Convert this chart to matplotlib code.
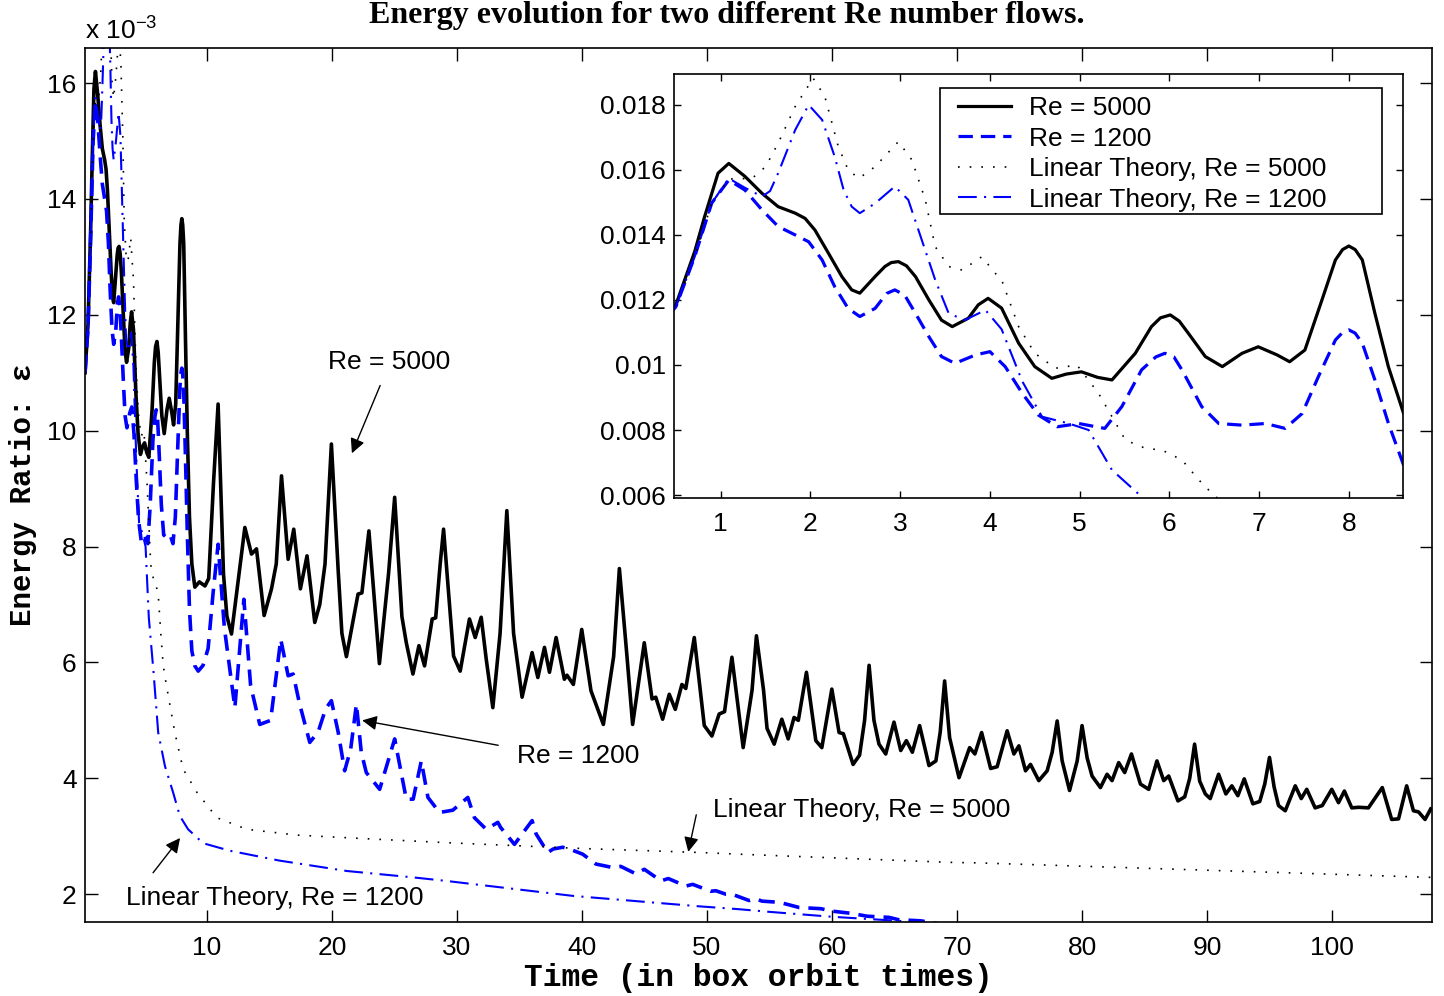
import numpy as np
import matplotlib
matplotlib.use("Agg")
import matplotlib.pyplot as plt
from matplotlib.patches import Rectangle
from matplotlib.ticker import FuncFormatter

plt.rcParams['font.family'] = ['Liberation Sans', 'DejaVu Sans']
plt.rcParams['mathtext.fontset'] = 'custom'
plt.rcParams['mathtext.rm'] = 'Liberation Sans'
plt.rcParams['mathtext.default'] = 'regular'

# energy ratio values in units of 1e-3, time in box orbit times
# each entry is (time, energy ratio)

re5000_pts = [(0.26, 11.0), (0.5, 11.85), (0.71, 13.49), (0.82, 14.56), (0.97, 15.9), (1.09, 16.2),
              (1.27, 15.8), (1.46, 15.28), (1.64, 14.87), (1.83, 14.67), (1.94, 14.51), (2.05, 14.15),
              (2.2, 13.44), (2.35, 12.72), (2.46, 12.31), (2.55, 12.21), (2.72, 12.72), (2.83, 13.03),
              (2.9, 13.15), (2.98, 13.18), (3.07, 13.05), (3.17, 12.72), (3.32, 12.0), (3.46, 11.38),
              (3.58, 11.18), (3.76, 11.44), (3.87, 11.85), (3.98, 12.05), (4.13, 11.75), (4.32, 10.67),
              (4.5, 9.95), (4.69, 9.59), (4.85, 9.72), (5.02, 9.79), (5.2, 9.62), (5.36, 9.54),
              (5.62, 10.36), (5.8, 11.18), (5.9, 11.45), (6.01, 11.54), (6.11, 11.35), (6.21, 10.98),
              (6.4, 10.26), (6.59, 9.95), (6.81, 10.36), (6.99, 10.56), (7.2, 10.31), (7.34, 10.1),
              (7.51, 10.46), (7.7, 12.0), (7.85, 13.23), (7.93, 13.55), (8.0, 13.66), (8.07, 13.55),
              (8.15, 13.23), (8.29, 11.59), (8.44, 9.95), (8.61, 8.51), (8.8, 7.7), (9.04, 7.30),
              (9.4, 7.39), (9.85, 7.32), (10.15, 7.45), (10.53, 9.09), (10.9, 10.46), (11.33, 7.53),
              (11.6, 6.8), (11.97, 6.49), (13.04, 8.33), (13.57, 7.87), (13.97, 7.96), (14.58, 6.81),
              (15.17, 7.27), (15.55, 7.7), (15.97, 9.22), (16.5, 7.78), (16.95, 8.30), (17.48, 7.27),
              (18.01, 7.84), (18.63, 6.69), (19.03, 7.0), (19.45, 7.7), (19.96, 9.77), (20.5, 7.6),
              (20.8, 6.5), (21.16, 6.10), (22.09, 7.18), (22.4, 7.2), (22.96, 8.27), (23.8, 5.98),
              (24.53, 7.53), (25.02, 8.85), (25.6, 6.79), (25.95, 6.34), (26.48, 5.80), (26.96, 6.29),
              (27.41, 5.94), (28.02, 6.75), (28.3, 6.77), (28.66, 7.7), (28.93, 8.30), (29.4, 7.0),
              (29.73, 6.11), (30.26, 5.85), (31.0, 6.75), (31.46, 6.43), (31.94, 6.78), (32.34, 6.06),
              (32.87, 5.22), (33.45, 6.5), (33.99, 8.62), (34.53, 6.5), (35.21, 5.40), (36.01, 6.17),
              (36.47, 5.74), (37.0, 6.26), (37.4, 5.83), (37.93, 6.43), (38.59, 5.71), (38.8, 5.78),
              (39.31, 5.62), (39.98, 6.57), (40.72, 5.51), (41.71, 4.93), (42.53, 6.1), (42.99, 7.62),
              (43.6, 6.1), (44.05, 4.93), (44.98, 6.34), (45.6, 5.37), (45.9, 5.40), (46.45, 5.02),
              (46.98, 5.45), (47.46, 5.19), (47.99, 5.62), (48.3, 5.55), (48.98, 6.43), (49.78, 4.91),
              (50.39, 4.73), (50.97, 5.11), (51.4, 5.15), (51.99, 6.09), (52.89, 4.53), (53.6, 5.52),
              (53.95, 6.46), (54.52, 5.52), (54.8, 4.86), (55.37, 4.59), (55.98, 5.02), (56.49, 4.68),
              (56.96, 5.05), (57.3, 5.0), (57.95, 5.83), (58.7, 4.65), (59.18, 4.53), (59.98, 5.54),
              (60.56, 4.79), (60.9, 4.77), (61.68, 4.24), (62.2, 4.4), (62.6, 5.0), (62.96, 5.95),
              (63.35, 5.0), (63.75, 4.59), (64.29, 4.42), (64.95, 4.97), (65.49, 4.48), (65.94, 4.65),
              (66.42, 4.45), (67.0, 4.91), (67.75, 4.22), (68.3, 4.3), (68.65, 4.8), (69.0, 5.68),
              (69.4, 4.7), (70.15, 4.01), (71.0, 4.53), (71.42, 4.42), (71.96, 4.79), (72.68, 4.17),
              (73.2, 4.2), (74.0, 4.82), (74.54, 4.42), (74.94, 4.56), (75.47, 4.13), (75.87, 4.24),
              (76.53, 3.96), (77.2, 4.13), (77.6, 4.45), (78.0, 4.99), (78.4, 4.3), (78.99, 3.79),
              (79.6, 4.3), (79.99, 4.91), (80.4, 4.35), (80.79, 4.04), (81.46, 3.84), (81.99, 4.07),
              (82.39, 3.96), (82.92, 4.27), (83.4, 4.10), (83.94, 4.42), (84.66, 3.90), (85.32, 3.81),
              (85.98, 4.30), (86.52, 3.96), (86.92, 4.04), (87.66, 3.61), (88.2, 3.68), (88.6, 4.0),
              (88.99, 4.59), (89.4, 3.95), (89.85, 3.73), (90.24, 3.65), (90.91, 4.07), (91.49, 3.73),
              (91.97, 3.87), (92.45, 3.70), (92.96, 3.99), (93.65, 3.56), (94.2, 3.60), (94.6, 3.9),
              (94.98, 4.36), (95.35, 3.85), (95.7, 3.53), (96.24, 3.44), (97.04, 3.87), (97.52, 3.65),
              (97.96, 3.81), (98.63, 3.49), (99.2, 3.53), (99.96, 3.81), (100.5, 3.58), (100.97, 3.78),
              (101.56, 3.49), (102.1, 3.50), (102.89, 3.49), (104.0, 3.84), (104.75, 3.29), (105.3, 3.30),
              (105.95, 3.87), (106.49, 3.44), (106.9, 3.42), (107.42, 3.29), (107.87, 3.47)]

re1200_pts = [(0.26, 11.0), (0.5, 11.79), (0.71, 13.33), (0.9, 14.98), (1.09, 15.69), (1.27, 15.38),
              (1.46, 14.77), (1.64, 14.26), (1.83, 14.0), (1.98, 13.79), (2.13, 13.23), (2.27, 12.41),
              (2.42, 11.74), (2.55, 11.49), (2.72, 11.74), (2.85, 12.2), (2.94, 12.31), (3.05, 12.15),
              (3.17, 11.59), (3.32, 10.87), (3.46, 10.26), (3.61, 10.05), (3.84, 10.31), (4.0, 10.41),
              (4.17, 9.95), (4.36, 9.13), (4.54, 8.46), (4.75, 8.1), (4.99, 8.2), (5.28, 8.05),
              (5.47, 8.72), (5.69, 9.85), (5.85, 10.25), (5.95, 10.36), (6.05, 10.25), (6.14, 9.85),
              (6.36, 8.72), (6.55, 8.2), (6.81, 8.15), (7.07, 8.2), (7.29, 8.05), (7.48, 8.51),
              (7.66, 9.64), (7.85, 10.77), (7.93, 11.0), (8.0, 11.08), (8.07, 10.98), (8.15, 10.67),
              (8.29, 9.54), (8.44, 8.21), (8.61, 6.92), (8.8, 6.2), (9.04, 5.94), (9.31, 5.85),
              (9.7, 5.95), (10.1, 6.24), (10.5, 7.2), (10.9, 8.04), (11.4, 6.6), (12.24, 5.22),
              (12.96, 7.09), (13.5, 5.6), (14.23, 4.93), (15.1, 5.0), (15.91, 6.40), (16.5, 5.77),
              (16.9, 5.8), (17.4, 5.3), (18.23, 4.62), (18.9, 4.8), (19.5, 5.2), (19.96, 5.34),
              (20.5, 4.8), (21.02, 4.13), (21.5, 4.5), (21.96, 5.28), (22.35, 4.45), (22.75, 4.1),
              (23.82, 3.81), (25.02, 4.68), (25.95, 3.64), (26.5, 3.64), (27.15, 4.3), (27.68, 3.67),
              (28.61, 3.41), (29.67, 3.45), (30.87, 3.67), (31.4, 3.32), (32.34, 3.12), (33.27, 3.24),
              (33.5, 3.15), (34.6, 2.86), (36.01, 3.27), (36.33, 3.04), (37.26, 2.72), (37.7, 2.78),
              (38.46, 2.81), (39.0, 2.78), (40.06, 2.69), (41.12, 2.52), (42.45, 2.46), (43.1, 2.48),
              (44.32, 2.35), (44.98, 2.43), (46.32, 2.23), (46.9, 2.27), (48.31, 2.14), (48.85, 2.17),
              (50.3, 2.05), (50.7, 2.06), (51.5, 2.0), (52.0, 2.0), (53.37, 1.89), (53.9, 1.92),
              (54.4, 1.88), (55.77, 1.86), (56.5, 1.82), (57.37, 1.77), (59.1, 1.75), (59.9, 1.71),
              (61.5, 1.67), (62.8, 1.62), (64.55, 1.6), (65.3, 1.56), (67.1, 1.54), (68.5, 1.49)]

lin5000_pts = [(0.26, 11.0), (0.5, 11.8), (0.71, 13.33), (0.9, 14.98), (1.09, 15.72), (1.35, 15.74),
               (1.5, 16.1), (1.64, 16.82), (1.83, 17.95), (2.03, 18.82), (2.16, 18.26), (2.31, 16.72),
               (2.42, 16.0), (2.54, 15.74), (2.72, 16.1), (2.98, 16.87), (3.13, 16.31), (3.28, 15.08),
               (3.39, 13.64), (3.54, 13.03), (3.69, 12.92), (3.91, 13.33), (4.06, 12.82), (4.13, 12.62),
               (4.32, 11.18), (4.5, 10.36), (4.73, 9.9), (4.97, 10.0), (5.21, 9.13), (5.51, 7.69),
               (5.73, 7.44), (5.92, 7.38), (6.14, 7.08), (6.33, 6.46), (6.51, 5.95), (6.73, 5.65),
               (7.44, 4.79), (8.1, 4.16), (9.2, 3.76), (10.8, 3.32), (13.2, 3.12), (17.2, 3.02),
               (22.5, 2.96), (29.1, 2.89), (39.8, 2.79), (49.4, 2.72), (52.6, 2.69), (69.3, 2.55),
               (71.7, 2.54), (107.9, 2.29)]

lin1200_pts = [(0.26, 11.0), (0.5, 11.79), (0.71, 13.33), (0.9, 14.98), (1.09, 15.74), (1.27, 15.45),
               (1.46, 15.18), (1.55, 15.35), (1.64, 15.9), (1.83, 17.23), (1.98, 18.0), (2.13, 17.54),
               (2.27, 16.41), (2.37, 15.38), (2.46, 14.87), (2.55, 14.67), (2.72, 14.97), (2.94, 15.49),
               (3.09, 15.08), (3.24, 13.85), (3.39, 12.62), (3.54, 11.59), (3.72, 11.38), (3.95, 11.69),
               (4.13, 11.1), (4.36, 9.5), (4.58, 8.41), (4.88, 8.2), (5.1, 8.0), (5.36, 6.77),
               (5.73, 5.85), (6.11, 4.79), (6.65, 4.21), (7.31, 3.75), (7.84, 3.35), (8.5, 3.12),
               (9.7, 2.88), (11.84, 2.75), (15.8, 2.58), (21.2, 2.4), (26.5, 2.29), (29.1, 2.23),
               (39.3, 1.97), (49.4, 1.79), (52.6, 1.74), (54.7, 1.70), (60.0, 1.61), (65.3, 1.54),
               (68.5, 1.49)]

series_labels = ['Re = 5000', 'Re = 1200', 'Linear Theory, Re = 5000', 'Linear Theory, Re = 1200']

x_ticks = [10, 20, 30, 40, 50, 60, 70, 80, 90, 100]
y_ticks = [2, 4, 6, 8, 10, 12, 14, 16]
inset_x_ticks = [1, 2, 3, 4, 5, 6, 7, 8]
inset_y_ticks = [0.006, 0.008, 0.010, 0.012, 0.014, 0.016, 0.018]

# text label, text position, arrow tail, arrow head (main axes data coords)
notes = [('Re = 5000', (24.6, 11.18), (23.86, 10.78), (21.6, 9.61)),
         ('Re = 1200', (39.7, 4.38), (33.3, 4.57), (22.42, 5.0)),
         ('Linear Theory, Re = 5000', (62.4, 3.46), (49.14, 3.37), (48.5, 2.73)),
         ('Linear Theory, Re = 1200', (15.46, 1.93), (5.7, 2.37), (7.86, 2.97))]

FS = 19

styles = [dict(color='black', lw=2.6, ls='-'),
          dict(color='blue', lw=2.6, ls=(0, (4.5, 2.5))),
          dict(color='black', lw=1.2, ls=(0, (1, 6))),
          dict(color='blue', lw=1.5, ls=(0, (9, 3.5, 1, 3.5)))]

all_pts = [re5000_pts, re1200_pts, lin5000_pts, lin1200_pts]

fig = plt.figure(figsize=(14.44, 9.96), dpi=100)

# main axes
ax = fig.add_axes([0.0589, 0.0743, 0.9330, 0.8772])
for pts, st in zip(all_pts, styles):
    t = [p[0] for p in pts]
    e = [p[1] for p in pts]
    ax.plot(t, e, solid_joinstyle='round', dash_joinstyle='round', **st)

ax.set_xlim(0.26, 108)
ax.set_ylim(1.52, 16.6)
ax.set_xticks(x_ticks)
ax.set_yticks(y_ticks)
ax.tick_params(direction='in', length=9, width=1, top=True, right=True,
               labelsize=FS, pad=10)
ax.tick_params(axis='y', pad=6)
for sp in ax.spines.values():
    sp.set_linewidth(1.2)

ax.text(0.0, 1.004, r'x 10$^{-3}$', transform=ax.transAxes, fontsize=FS,
        ha='left', va='bottom')

ax.set_xlabel('Time (in box orbit times)', family='Liberation Mono',
              fontweight='bold', fontsize=22.5)
ax.xaxis.set_label_coords(0.5, -0.047)
ax.xaxis.label.set_va('top')
ax.set_ylabel('Energy Ratio: ε', family='Liberation Mono',
              fontweight='bold', fontsize=21)
ax.yaxis.set_label_coords(-0.036, 0.489)

for label, txt_pos, tail, head in notes:
    ax.text(txt_pos[0], txt_pos[1], label, fontsize=FS, ha='center', va='center')
    ax.annotate('', xy=head, xytext=tail,
                arrowprops=dict(arrowstyle='-|>', color='black', lw=1,
                                mutation_scale=22, shrinkA=0, shrinkB=0))

fig.text(0.503, 0.984, 'Energy evolution for two different Re number flows.',
         family='Liberation Serif', fontweight='bold', fontsize=23,
         ha='center', va='center')

# zoomed inset of the first orbits
axin = fig.add_axes([0.4668, 0.4997, 0.5046, 0.4260])
lines = []
for pts, st, lab in zip(all_pts, styles, series_labels):
    st2 = dict(st)
    if st2['lw'] > 2:
        st2['lw'] = 2.3
    t = [p[0] for p in pts]
    e = np.array([p[1] for p in pts]) * 1e-3
    ln, = axin.plot(t, e, label=lab, solid_joinstyle='round', dash_joinstyle='round', **st2)
    lines.append(ln)

axin.set_xlim(0.48, 8.6)
axin.set_ylim(0.0059, 0.01895)
axin.set_xticks(inset_x_ticks)
axin.set_yticks(inset_y_ticks)
axin.yaxis.set_major_formatter(FuncFormatter(lambda v, p: '%g' % v))
axin.tick_params(direction='in', length=5, width=1, top=True, right=True,
                 labelsize=FS, pad=10)
axin.tick_params(axis='y', pad=6)
for sp in axin.spines.values():
    sp.set_linewidth(1.2)

# legend box is wider than its contents, as in the original
axin.add_patch(Rectangle((0.365, 0.670), 0.9716 - 0.365, 0.967 - 0.670,
                         transform=axin.transAxes, facecolor='white',
                         edgecolor='black', lw=1.2, zorder=4))
leg = axin.legend(handles=lines, loc='upper left', bbox_to_anchor=(0.3788, 0.967),
                  borderaxespad=0, fontsize=FS, frameon=False,
                  handlelength=2.0, handletextpad=0.7,
                  labelspacing=0.25, borderpad=0.3)
leg.set_zorder(5)

fig.savefig('out.png', dpi=100)
